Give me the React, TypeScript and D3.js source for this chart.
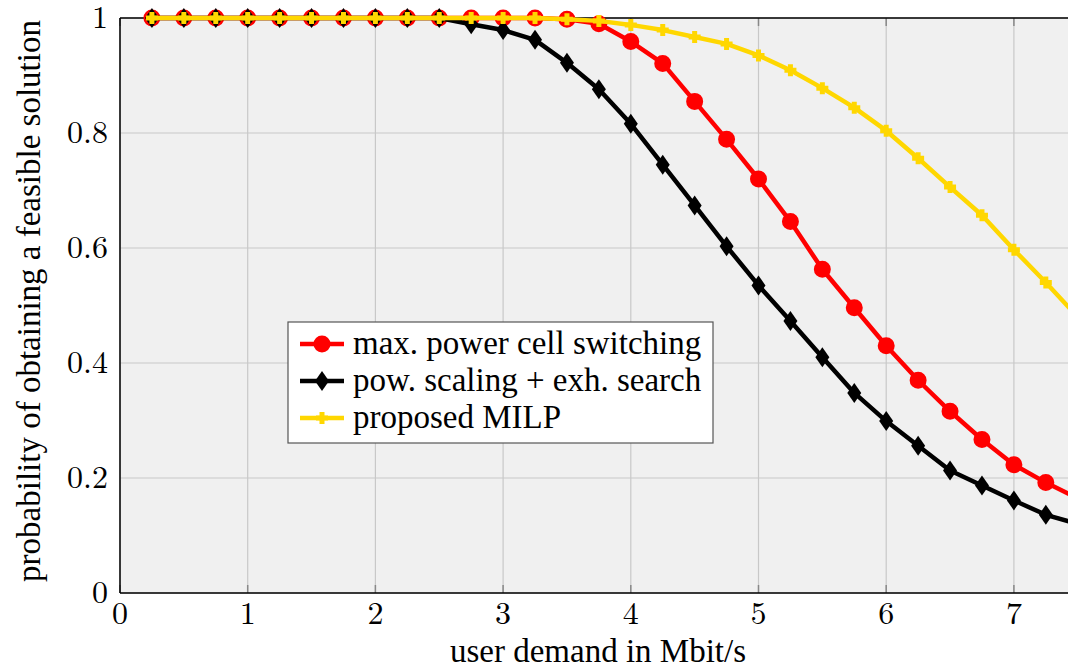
import React from "react";
import * as d3 from "d3";

const demand = [0.25, 0.5, 0.75, 1, 1.25, 1.5, 1.75, 2, 2.25, 2.5, 2.75, 3, 3.25, 3.5, 3.75, 4, 4.25, 4.5, 4.75, 5, 5.25, 5.5, 5.75, 6, 6.25, 6.5, 6.75, 7, 7.25, 7.5];
const maxPower = [1, 1, 1, 1, 1, 1, 1, 1, 1, 1, 1, 1, 1, 0.998, 0.99, 0.959, 0.921, 0.855, 0.789, 0.72, 0.646, 0.563, 0.496, 0.43, 0.37, 0.316, 0.267, 0.223, 0.192, 0.165];
const powScaling = [1, 1, 1, 1, 1, 1, 1, 1, 1, 1, 0.989, 0.979, 0.962, 0.922, 0.876, 0.816, 0.745, 0.674, 0.603, 0.535, 0.473, 0.41, 0.348, 0.299, 0.256, 0.213, 0.187, 0.161, 0.136, 0.12];
const milp = [1, 1, 1, 1, 1, 1, 1, 1, 1, 1, 1, 1, 1, 0.998, 0.995, 0.988, 0.979, 0.967, 0.955, 0.935, 0.909, 0.878, 0.844, 0.804, 0.756, 0.706, 0.657, 0.597, 0.54, 0.48];
const xTicks = [0, 1, 2, 3, 4, 5, 6, 7];
const yTicks = [0, 0.2, 0.4, 0.6, 0.8, 1];
const legendLabels = ["max. power cell switching", "pow. scaling + exh. search", "proposed MILP"];

const W = 1068, H = 668;
const left = 120, top = 18, bottom = 593;
const unit = 127.7;
const x = d3.scaleLinear().domain([0, 8]).range([left, left + 8 * unit]);
const y = d3.scaleLinear().domain([0, 1]).range([bottom, top]);
const numFont = "Latin Modern Roman";
const txtFont = "Liberation Serif";

const RED = "#ff0000", BLACK = "#000000", YELLOW = "#ffd700";

function lineOf(vals: number[]) {
  return d3.line<number>().x((_, i) => x(demand[i])).y((v) => y(v))(vals) || "";
}

function Circle({ cx, cy }: { cx: number; cy: number }) {
  return <circle cx={cx} cy={cy} r={7.5} fill={RED} stroke={RED} strokeWidth={2} />;
}
function Diamond({ cx, cy }: { cx: number; cy: number }) {
  const w = 7, h = 10;
  return <path d={`M${cx},${cy - h}L${cx + w},${cy}L${cx},${cy + h}L${cx - w},${cy}Z`} fill={BLACK} />;
}
function Plus({ cx, cy }: { cx: number; cy: number }) {
  const a = 6;
  return <path d={`M${cx - a},${cy}H${cx + a}M${cx},${cy - a}V${cy + a}`} stroke={YELLOW} strokeWidth={5} />;
}

export default function App() {
  const legX = 288, legY = 322, legW = 425, legH = 121;
  const rowY = [344, 381, 418];
  return (
    <svg width={W} height={H} style={{ position: "absolute", left: 0, top: 0, display: "block", background: "#fff" }}>
      <rect x={left} y={top} width={W - left} height={bottom - top} fill="#f0f0f0" />
      {xTicks.map((t) => (
        <line key={"gx" + t} x1={x(t)} x2={x(t)} y1={top} y2={bottom} stroke="#c8c8c8" strokeWidth={1.2} />
      ))}
      {yTicks.map((t) => (
        <line key={"gy" + t} x1={left} x2={W} y1={y(t)} y2={y(t)} stroke="#c8c8c8" strokeWidth={1.2} />
      ))}
      {xTicks.map((t) => (
        <g key={"tk" + t}>
          <line x1={x(t)} x2={x(t)} y1={bottom} y2={bottom - 8} stroke="#888" strokeWidth={1.5} />
          <line x1={x(t)} x2={x(t)} y1={top} y2={top + 8} stroke="#888" strokeWidth={1.5} />
        </g>
      ))}
      <line x1={left} x2={W} y1={top} y2={top} stroke="#000" strokeWidth={1.5} />
      <line x1={left} x2={W} y1={bottom} y2={bottom} stroke="#000" strokeWidth={1.5} />
      <line x1={left} x2={left} y1={top} y2={bottom} stroke="#000" strokeWidth={1.5} />

      <path d={lineOf(maxPower)} fill="none" stroke={RED} strokeWidth={4.5} strokeLinejoin="round" />
      {maxPower.map((v, i) => <Circle key={"c" + i} cx={x(demand[i])} cy={y(v)} />)}
      <path d={lineOf(powScaling)} fill="none" stroke={BLACK} strokeWidth={4.5} strokeLinejoin="round" />
      {powScaling.map((v, i) => <Diamond key={"d" + i} cx={x(demand[i])} cy={y(v)} />)}
      <path d={lineOf(milp)} fill="none" stroke={YELLOW} strokeWidth={4.5} strokeLinejoin="round" />
      {milp.map((v, i) => <Plus key={"p" + i} cx={x(demand[i])} cy={y(v)} />)}

      {xTicks.map((t) => (
        <text key={"xl" + t} x={x(t)} y={624} textAnchor="middle" fontFamily={numFont} fontSize={32}>{t}</text>
      ))}
      {yTicks.map((t) => (
        <text key={"yl" + t} x={108} y={t === 1 ? 28 : y(t) + 10} textAnchor="end" fontFamily={numFont} fontSize={32}>{t === 0 || t === 1 ? String(t) : t.toFixed(1)}</text>
      ))}
      <text x={598} y={662} textAnchor="middle" fontFamily={txtFont} fontSize={33}>user demand in Mbit/s</text>
      <text transform={`translate(40,301) rotate(-90)`} textAnchor="middle" fontFamily={txtFont} fontSize={33}>probability of obtaining a feasible solution</text>

      <rect x={legX} y={legY} width={legW} height={legH} fill="#fff" stroke="#555" strokeWidth={1.2} />
      {legendLabels.map((lab, i) => {
        const cy = rowY[i];
        return (
          <g key={"lg" + i}>
            <line x1={300} x2={344} y1={cy} y2={cy} stroke={[RED, BLACK, YELLOW][i]} strokeWidth={4.5} />
            {i === 0 && <Circle cx={322} cy={cy} />}
            {i === 1 && <Diamond cx={322} cy={cy} />}
            {i === 2 && <Plus cx={322} cy={cy} />}
            <text x={353} y={cy + 10} fontFamily={txtFont} fontSize={33}>{lab}</text>
          </g>
        );
      })}
    </svg>
  );
}
